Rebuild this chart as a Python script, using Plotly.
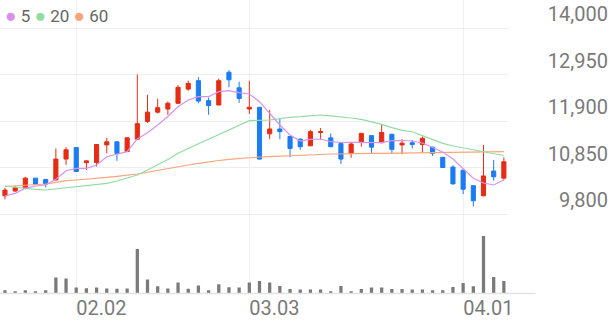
import plotly.graph_objects as go

dates = ["01.22", "01.23", "01.26", "01.27", "01.28", "01.29", "01.30",
         "02.02", "02.03", "02.04", "02.05", "02.06", "02.09", "02.10", "02.11", "02.12", "02.13",
         "02.19", "02.20", "02.23", "02.24", "02.25", "02.26", "02.27",
         "03.03", "03.04", "03.05", "03.06", "03.09", "03.10", "03.11", "03.12", "03.13",
         "03.16", "03.17", "03.18", "03.19", "03.20", "03.23", "03.24", "03.25", "03.26", "03.27",
         "03.30", "03.31", "04.01", "04.02", "04.03", "04.06", "04.07"]

open_ = [10210, 10320, 10380, 10610, 10580, 10570, 11040, 11300, 10960, 10960,
         11360, 11430, 11210, 11490, 11890, 12100, 12170, 12300, 12620, 12810,
         12360, 12260, 13000, 12650, 12170, 12210, 11610, 11720, 11550, 11490,
         11340, 11640, 11520, 11390, 11170, 11420, 11570, 11410, 11600, 11360,
         11410, 11370, 11310, 11080, 10860, 10790, 10440, 10210, 10770, 10610]
high = [10390, 10430, 10640, 10610, 10590, 11280, 11310, 11300, 11000, 11380,
        11520, 11440, 11530, 12950, 12490, 12400, 12340, 12710, 12810, 12890,
        12430, 12860, 13050, 12790, 12810, 12210, 12150, 11960, 11550, 11510,
        11700, 11740, 11620, 11400, 11430, 11630, 11570, 11810, 11610, 11490,
        11470, 11550, 11320, 11090, 10900, 10800, 10450, 11360, 11020, 11080]
low = [10130, 10300, 10360, 10460, 10400, 10550, 10910, 10750, 10790, 10870,
       11170, 11000, 11200, 11490, 11860, 12070, 12040, 12290, 12580, 12300,
       12040, 12260, 12660, 12310, 12060, 11030, 11490, 11490, 11080, 11250,
       11330, 11470, 11310, 10930, 11070, 11320, 11170, 11400, 11170, 11150,
       11280, 11180, 11110, 10840, 10470, 10250, 9970, 10200, 10550, 10570]
close = [10340, 10390, 10610, 10470, 10480, 11040, 11250, 10760, 11000, 11370,
         11430, 11170, 11520, 11840, 12100, 12200, 12300, 12660, 12750, 12350,
         12250, 12810, 12830, 12410, 12210, 11040, 11720, 11660, 11280, 11320,
         11660, 11660, 11320, 11040, 11380, 11620, 11310, 11640, 11260, 11400,
         11370, 11510, 11170, 10850, 10480, 10360, 10100, 10660, 10640, 10980]

volume = [33000, 23000, 33000, 23000, 33000, 160000, 150000, 60000, 53000, 60000,
          50000, 47000, 50000, 446000, 140000, 73000, 50000, 110000, 47000, 80000,
          33000, 93000, 63000, 60000, 110000, 126000, 110000, 76000, 46000, 40000,
          40000, 40000, 23000, 76000, 23000, 46000, 60000, 60000, 46000, 46000,
          40000, 40000, 33000, 33000, 66000, 106000, 73000, 576000, 166000, 126000]

ma5 = [10206, 10267, 10380, 10432, 10455, 10584, 10778, 10832, 10832, 10906,
       11094, 11148, 11207, 11494, 11636, 11810, 12002, 12223, 12374, 12449,
       12449, 12562, 12584, 12539, 12510, 12336, 12074, 11810, 11584, 11448,
       11487, 11494, 11433, 11414, 11419, 11419, 11410, 11410, 11455, 11460,
       11448, 11403, 11302, 11200, 11042, 10821, 10606, 10500, 10455, 10568]
ma20 = [10432, 10403, 10380, 10358, 10342, 10365, 10394, 10410, 10432, 10462,
        10493, 10545, 10606, 10681, 10794, 10906, 11031, 11171, 11284, 11385,
        11487, 11591, 11697, 11803, 11907, 11916, 11923, 11952, 11984, 11997,
        12013, 12035, 12017, 11997, 11968, 11938, 11882, 11825, 11749, 11690,
        11658, 11573, 11482, 11396, 11335, 11290, 11245, 11207, 11155, 11121]
ma60 = [10421, 10432, 10448, 10462, 10477, 10516, 10552, 10568, 10584, 10606,
        10629, 10651, 10674, 10703, 10742, 10787, 10832, 10868, 10906, 10945,
        10981, 11008, 11035, 11058, 11080, 11087, 11096, 11103, 11110, 11121,
        11132, 11144, 11155, 11162, 11166, 11168, 11171, 11171, 11175, 11177,
        11182, 11184, 11186, 11189, 11191, 11193, 11198, 11200, 11204, 11207]

price_ticks = [9800, 10850, 11900, 12950, 14000]
date_ticks = ["02.02", "03.03", "04.01"]

RED = "#e42d14"
BLUE = "#1a7cf0"
C5 = "#d693ee"
C20 = "#92dca4"
C60 = "#f9a57c"

W, H = 616, 321
s = 1050 / 46.5  # won per pixel

fig = go.Figure()
fig.add_trace(go.Scatter(x=dates, y=ma60, mode="lines", line=dict(color=C60, width=1.2),
                         xaxis="x", yaxis="y", hoverinfo="skip"))
fig.add_trace(go.Scatter(x=dates, y=ma20, mode="lines", line=dict(color=C20, width=1.2),
                         xaxis="x", yaxis="y", hoverinfo="skip"))
fig.add_trace(go.Scatter(x=dates, y=ma5, mode="lines", line=dict(color=C5, width=1.2),
                         xaxis="x", yaxis="y", hoverinfo="skip"))
fig.add_trace(go.Candlestick(x=dates, open=open_, high=high, low=low, close=close,
                             increasing=dict(line=dict(color=RED, width=1), fillcolor=RED),
                             decreasing=dict(line=dict(color=BLUE, width=1), fillcolor=BLUE),
                             whiskerwidth=0, xaxis="x", yaxis="y"))
fig.add_trace(go.Bar(x=dates, y=volume, marker=dict(color="#7a7a7a", line=dict(width=0)),
                     width=0.32, xaxis="x", yaxis="y2"))

x_end = 512 / W
r0 = -5 / 10.265
r1 = r0 + 512 / 10.265
price_top_px, price_bot_px = 0, 216
vol_bot_px = 293.5

dot = '<span style="color:{c};font-size:19px">●</span>'
legend_text = (dot.format(c=C5) + ' 5 ' + dot.format(c=C20) + ' 20 '
               + dot.format(c=C60) + ' 60')

fig.update_layout(
    width=W, height=H,
    margin=dict(l=0, r=0, t=0, b=0),
    paper_bgcolor="white", plot_bgcolor="white",
    showlegend=False,
    boxgap=0.42,
    font=dict(family="Roboto", color="#777"),
    xaxis=dict(type="category", domain=[0, x_end], range=[r0, r1],
               anchor="y2", rangeslider=dict(visible=False),
               tickmode="array", tickvals=date_ticks, ticktext=date_ticks,
               showgrid=True, gridcolor="#efefef", gridwidth=1,
               ticks="", showline=False, zeroline=False,
               ticklabelposition="outside right",
               tickfont=dict(size=20, color="#7a7a7a", family="Roboto")),
    yaxis=dict(domain=[1 - price_bot_px / H, 1],
               range=[9800 - 2 * s, 9800 + 214 * s],
               tickmode="array", tickvals=price_ticks, tickformat=",",
               anchor="free", position=0.995, side="left",
               ticklabelposition="outside top",
               showgrid=True, gridcolor="#efefef", gridwidth=1,
               zeroline=False, showline=False, ticks="",
               tickfont=dict(size=20, color="#7a7a7a", family="Roboto")),
    yaxis2=dict(domain=[1 - vol_bot_px / H, 1 - price_bot_px / H],
                range=[0, 77.5 * 10000], showgrid=False, zeroline=False,
                showticklabels=False, ticks="", showline=False),
    shapes=[dict(type="line", xref="paper", yref="paper", x0=0, x1=540 / W,
                 y0=1 - vol_bot_px / H, y1=1 - vol_bot_px / H,
                 line=dict(color="#e3e3e3", width=1.5))],
    annotations=[dict(xref="paper", yref="paper", x=0, xshift=4, y=1 - 15.5 / H,
                      xanchor="left", yanchor="middle", showarrow=False,
                      align="left", borderpad=0,
                      text=legend_text,
                      font=dict(size=17, color="#666", family="Roboto"))],
)

fig.write_html("out.html")
